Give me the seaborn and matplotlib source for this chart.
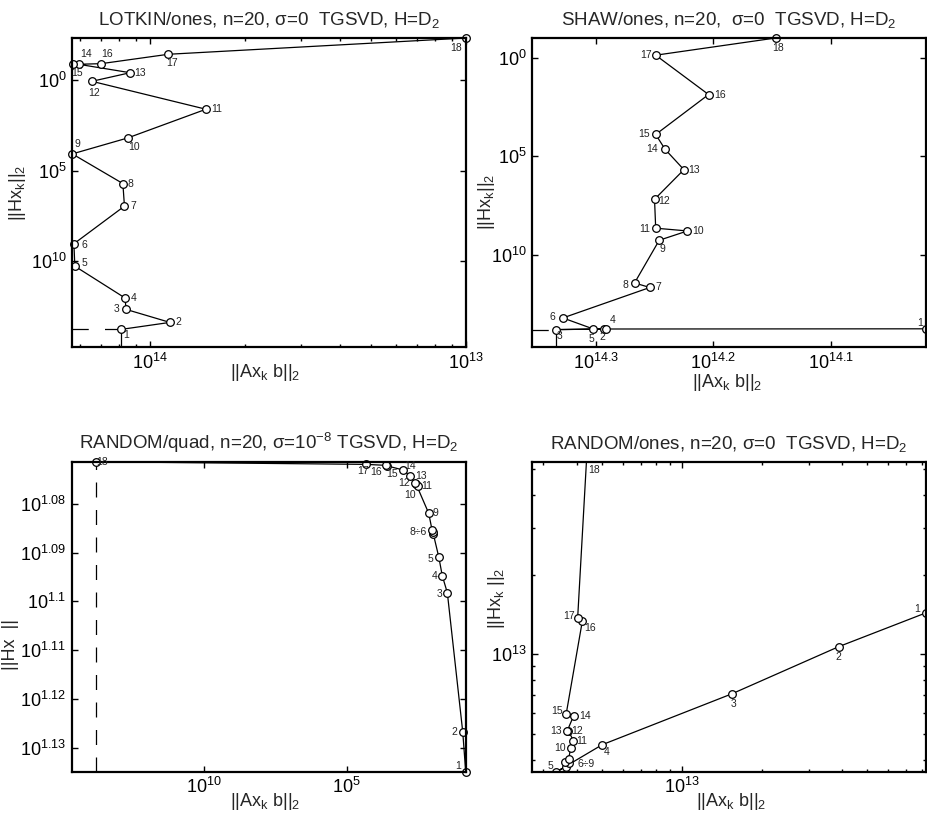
import numpy as np
import matplotlib
matplotlib.use('Agg')
import matplotlib.pyplot as plt
import seaborn as sns

# -----------------------------------------------------------
# DATA  (log10 of ||A x_k - b||_2 and ||H x_k||_2, k = 1..18)
# -----------------------------------------------------------
k_labels = [str(k) for k in range(1, 19)]

lotkin_res = [13.907, 14.063, 13.924, 13.921, 13.762, 13.759, 13.919, 13.914, 13.754,
              13.929, 14.177, 13.816, 13.937, 13.776, 13.757, 13.845, 14.058, 15.0]
lotkin_sol = [13.78, 13.39, 12.67, 12.04, 10.28, 9.04, 6.96, 5.71, 4.07,
              3.19, 1.60, 0.055, -0.42, -0.88, -0.88, -0.92, -1.44, -2.34]

shaw_res = [14.019, 14.293, 14.334, 14.291, 14.302, 14.328, 14.254, 14.267, 14.246,
            14.222, 14.249, 14.250, 14.225, 14.241, 14.249, 14.204, 14.249, 14.147]
shaw_sol = [13.72, 13.73, 13.76, 13.73, 13.73, 13.17, 11.63, 11.40, 9.24,
            8.77, 8.63, 7.17, 5.67, 4.64, 3.89, 1.87, -0.12, -0.99]

quad_res = [0.827, 0.932, 1.472, 1.647, 1.774, 1.963, 1.985, 2.008, 2.124,
            2.569, 2.510, 2.615, 2.780, 3.014, 3.596, 3.621, 4.322, 13.796]
quad_sol = [1.13497, 1.12676, 1.09821, 1.09478, 1.09082, 1.08616, 1.08575, 1.08534, 1.08191,
            1.07589, 1.07630, 1.07563, 1.07425, 1.07302, 1.07214, 1.07205, 1.07185, 1.07131]
quad_labels = k_labels[:5] + ['', '8÷6', ''] + k_labels[8:]

rand_res = [13.921, 13.591, 13.188, 12.699, 12.525, 12.561, 12.575, 12.558, 12.572,
            12.580, 12.590, 12.571, 12.567, 12.591, 12.563, 12.624, 12.606, 12.640]
rand_sol = [13.157, 13.029, 12.851, 12.659, 12.556, 12.576, 12.589, 12.592, 12.604,
            12.648, 12.674, 12.712, 12.712, 12.768, 12.776, 13.127, 13.136, 13.741]
rand_labels = k_labels[:5] + ['', '6÷9', '', ''] + k_labels[9:]

# label offsets in pixels (right, down)
lotkin_off = [(5, 6), (8, 0), (-9, 0), (9, 0), (10, -3), (10, 1), (9, 0), (8, 0), (5, -10),
              (6, 9), (11, 0), (2, 12), (10, 0), (7, -10), (4, 9), (6, -10), (4, 9), (-10, 10)]
shaw_off = [(-6, -6), (-2, 8), (4, 6), (6, -9), (-2, 10), (-10, -1), (8, 0), (-9, 2), (3, 9),
            (11, 0), (-11, 1), (10, 2), (10, 0), (-13, 0), (-12, 0), (11, 0), (-10, 0), (3, 10)]
quad_off = [(-8, -6), (-8, 0), (-8, 1), (-8, 0), (-8, 2), (0, 0), (-15, 0), (0, 0), (7, 0),
            (-6, 11), (9, 0), (-11, 0), (11, 0), (7, -4), (5, 8), (-10, 7), (-3, 7), (6, 0)]
rand_off = [(-9, -4), (0, 10), (2, 10), (4, 7), (-6, -6), (0, 0), (17, 1), (0, 0), (0, 0),
            (-11, 0), (8, 0), (9, 0), (-11, 0), (11, 0), (-9, -3), (8, 7), (-9, -2), (7, 12)]

# -----------------------------------------------------------
# STYLE
# -----------------------------------------------------------
sns.set_theme(style='ticks')
plt.rcParams['font.family'] = ['Liberation Sans', 'DejaVu Sans']
plt.rcParams['mathtext.fontset'] = 'custom'
plt.rcParams['mathtext.rm'] = 'Liberation Sans'
plt.rcParams['mathtext.it'] = 'Liberation Sans:italic'
plt.rcParams['mathtext.bf'] = 'Liberation Sans:bold'
plt.rcParams['axes.edgecolor'] = 'black'
plt.rcParams['xtick.color'] = 'black'
plt.rcParams['ytick.color'] = 'black'

TITLE_FS = 13.5
TICK_FS = 13
LABEL_FS = 13
NUM_FS = 7.5

fig = plt.figure(figsize=(9.27, 8.16), dpi=100)
W, H = 927.0, 816.0


def add_ax(left, top, right, bottom):
    return fig.add_axes([left / W, 1 - bottom / H, (right - left) / W, (bottom - top) / H])


def pow_labels(vals):
    return [r'$10^{%s}$' % v for v in vals]


def log_minor(lo, hi):
    lo, hi = min(lo, hi), max(lo, hi)
    ticks = [d + np.log10(m) for d in range(int(np.floor(lo)) - 1, int(np.ceil(hi)) + 1)
             for m in range(2, 10)]
    return [t for t in ticks if lo < t < hi]


def draw_panel(ax, xs, ys, labels, offsets, clip=False):
    df = {'x': xs, 'y': ys}
    sns.lineplot(data=df, x='x', y='y', sort=False, estimator=None, ax=ax,
                 color='black', lw=0.9, marker='o', ms=5.5, mfc='white', mec='black',
                 mew=0.9, clip_on=clip)
    for x, y, lab, (dx, dy) in zip(xs, ys, labels, offsets):
        if lab:
            ax.annotate(lab, (x, y), xytext=(dx, -dy), textcoords='offset pixels',
                        fontsize=NUM_FS, ha='center', va='center', color='#222222',
                        annotation_clip=False)
    ax.tick_params(which='both', direction='in', top=True, right=True,
                   labelsize=TICK_FS, width=1, pad=4)
    ax.tick_params(which='major', length=4)
    ax.tick_params(which='minor', length=2.5)
    for s in ax.spines.values():
        s.set_linewidth(1.6)
    ax.set_xlabel(r'||Ax$_\mathrm{k}$ b||$_2$', fontsize=LABEL_FS)


# -----------------------------------------------------------
# PANEL 1: LOTKIN
# -----------------------------------------------------------
ax1 = add_ax(72, 38, 466, 347)
ax1.set_xlim(13.753, 15.0)
ax1.set_ylim(14.75, -2.34)
ax1.plot([13.753, lotkin_res[0]], [lotkin_sol[0]] * 2, color='black', lw=0.9, ls=(0, (13, 13)))
ax1.plot([lotkin_res[0]] * 2, [14.75, lotkin_sol[0]], color='black', lw=0.9)
draw_panel(ax1, lotkin_res, lotkin_sol, k_labels, lotkin_off)
ax1.set_xticks([14, 15], pow_labels(['14', '13']))
ax1.set_xticks(log_minor(13.753, 15.0), minor=True)
ax1.set_yticks([0, 5, 10], pow_labels(['0', '5', '10']))
ax1.set_title('LOTKIN/ones, n=20, σ=0  TGSVD, H=D$_2$', fontsize=TITLE_FS, pad=9)
ax1.set_ylabel(r'||Hx$_\mathrm{k}$||$_2$', fontsize=LABEL_FS)
ax1.yaxis.set_label_coords(-0.112, 0.5)
ax1.xaxis.set_label_coords(0.49, -0.05)

# -----------------------------------------------------------
# PANEL 2: SHAW
# -----------------------------------------------------------
ax2 = add_ax(532.3, 38, 926, 347)
ax2.set_xlim(14.354, 14.019)
ax2.set_ylim(14.64, -0.99)
ax2.plot([14.354, shaw_res[2]], [shaw_sol[2]] * 2, color='black', lw=0.9, ls=(0, (13, 13)))
ax2.plot([shaw_res[2]] * 2, [14.64, shaw_sol[2]], color='black', lw=0.9)
draw_panel(ax2, shaw_res, shaw_sol, k_labels, shaw_off)
ax2.set_xticks([14.3, 14.2, 14.1], pow_labels(['14.3', '14.2', '14.1']))
ax2.set_yticks([0, 5, 10], pow_labels(['0', '5', '10']))
ax2.set_title('SHAW/ones, n=20,  σ=0  TGSVD, H=D$_2$', fontsize=TITLE_FS, pad=9)
ax2.set_ylabel(r'||Hx$_\mathrm{k}$||$_2$', fontsize=LABEL_FS)
ax2.yaxis.set_label_coords(-0.09, 0.47)
ax2.xaxis.set_label_coords(0.495, -0.08)

# -----------------------------------------------------------
# PANEL 3: RANDOM/quad
# -----------------------------------------------------------
ax3 = add_ax(72, 461.7, 466, 771.7)
ax3.set_xlim(14.64, 0.817)
ax3.set_ylim(1.13497, 1.0713)
ax3.plot([quad_res[-1]] * 2, [1.13497, quad_sol[-1]], color='black', lw=0.9, ls=(0, (12, 10)))
draw_panel(ax3, quad_res, quad_sol, quad_labels, quad_off)
ax3.set_xticks([10, 5], pow_labels(['10', '5']))
ax3.set_yticks([1.08, 1.09, 1.10, 1.11, 1.12, 1.13],
               pow_labels(['1.08', '1.09', '1.1', '1.11', '1.12', '1.13']))
ax3.set_title('RANDOM/quad, n=20, σ=10$^{-8}$ TGSVD, H=D$_2$', fontsize=TITLE_FS, pad=9)
ax3.set_ylabel('||Hx  ||', fontsize=LABEL_FS)
ax3.yaxis.set_label_coords(-0.135, 0.41)
ax3.xaxis.set_label_coords(0.49, -0.062)

# -----------------------------------------------------------
# PANEL 4: RANDOM/ones
# -----------------------------------------------------------
ax4 = add_ax(532.3, 461.7, 926, 771.7)
ax4.set_xlim(12.435, 13.92)
ax4.set_ylim(12.557, 13.727)
draw_panel(ax4, rand_res, rand_sol, rand_labels, rand_off, clip=True)
ax4.set_xticks([13], pow_labels(['13']))
ax4.set_xticks(log_minor(12.435, 13.92), minor=True)
ax4.set_yticks([13], pow_labels(['13']))
ax4.set_yticks(log_minor(12.557, 13.727), minor=True)
ax4.set_title('RANDOM/ones, n=20, σ=0  TGSVD, H=D$_2$', fontsize=TITLE_FS, pad=9)
ax4.set_ylabel(r'||Hx$_\mathrm{k}$ ||$_2$', fontsize=LABEL_FS)
ax4.yaxis.set_label_coords(-0.064, 0.56)
ax4.xaxis.set_label_coords(0.505, -0.062)

fig.savefig('out.png', dpi=100)
